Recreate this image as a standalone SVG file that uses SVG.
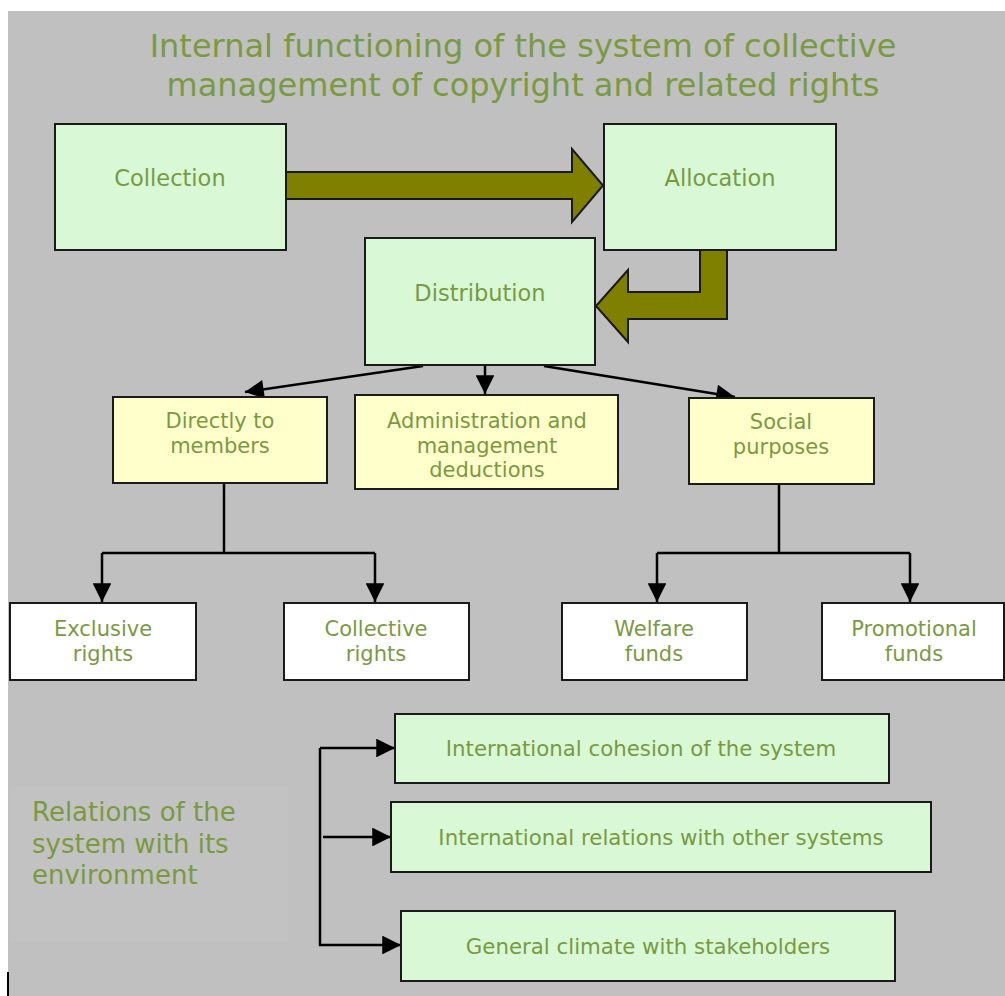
<svg xmlns="http://www.w3.org/2000/svg" width="1005" height="996" viewBox="0 0 1005 996">
<defs>
<style>
text{font-family:"DejaVu Sans","Verdana",sans-serif;fill:#7a9a42;text-anchor:middle}
.title{font-size:32px}
.big{font-size:22.5px}
.mid{font-size:21px}
.sm{font-size:21px}
.bot{font-size:21.3px}
.rel{font-size:26px;text-anchor:start}
.g{fill:#d8f8d6;stroke:#1a1a1a;stroke-width:2}
.y{fill:#ffffcc;stroke:#1a1a1a;stroke-width:2}
.w{fill:#ffffff;stroke:#1a1a1a;stroke-width:2}
.ln{fill:none;stroke:#000;stroke-width:2.5}
.thick{fill:#808000;stroke:#1a1a1a;stroke-width:2;stroke-linejoin:miter}
</style>
<marker id="ah" viewBox="0 0 10 10" refX="10" refY="5" markerWidth="8" markerHeight="7.5" markerUnits="strokeWidth" orient="auto">
<path d="M0,0 L10,5 L0,10 z" fill="#000"/>
</marker>
</defs>
<rect x="0" y="0" width="1005" height="996" fill="#ffffff"/>
<rect x="8" y="11" width="997" height="985" fill="#c0c0c0"/>
<rect x="10" y="785" width="278" height="157" fill="#c2c2c2"/>
<line x1="8" y1="972" x2="8" y2="996" stroke="#000" stroke-width="2"/>
<g id="title">
<text class="title" x="523" y="57">Internal functioning of the system of collective</text>
<text class="title" x="523" y="96">management of copyright and related rights</text>
</g>
<g id="connectors">
<path class="thick" d="M286,172 H572 V149 L603,185.5 L572,222 V199 H286 Z"/>
<path class="thick" d="M700,250 H727 V319 H628 V342 L596,306 L628,270 V292 H700 Z"/>
<line class="ln" x1="423" y1="366" x2="245" y2="392" marker-end="url(#ah)"/>
<line class="ln" x1="485" y1="366" x2="485" y2="394" marker-end="url(#ah)"/>
<line class="ln" x1="544" y1="366" x2="735" y2="397" marker-end="url(#ah)"/>
<path class="ln" d="M224,483 V553"/>
<path class="ln" d="M102,553 H375"/>
<line class="ln" x1="102" y1="553" x2="102" y2="602" marker-end="url(#ah)"/>
<line class="ln" x1="375" y1="553" x2="375" y2="602" marker-end="url(#ah)"/>
<path class="ln" d="M779,484 V553"/>
<path class="ln" d="M657,553 H910"/>
<line class="ln" x1="657" y1="553" x2="657" y2="602" marker-end="url(#ah)"/>
<line class="ln" x1="910" y1="553" x2="910" y2="602" marker-end="url(#ah)"/>
<path class="ln" d="M320,748 V945 H401" marker-end="url(#ah)"/>
<line class="ln" x1="320" y1="748" x2="395" y2="748" marker-end="url(#ah)"/>
<line class="ln" x1="323" y1="837" x2="391" y2="837" marker-end="url(#ah)"/>
</g>
<g id="collection"><rect class="g" x="55" y="124" width="231" height="126"/><text class="big" x="170" y="186">Collection</text></g>
<g id="allocation"><rect class="g" x="604" y="124" width="232" height="126"/><text class="big" x="720" y="186">Allocation</text></g>
<g id="distribution"><rect class="g" x="365" y="238" width="230" height="127"/><text class="big" x="480" y="301">Distribution</text></g>
<g id="directly"><rect class="y" x="113" y="397" width="214" height="86"/><text class="mid" x="220" y="428">Directly to</text><text class="mid" x="220" y="453">members</text></g>
<g id="admin"><rect class="y" x="355" y="395" width="263" height="94"/><text class="mid" x="487" y="428">Administration and</text><text class="mid" x="487" y="453">management</text><text class="mid" x="487" y="477">deductions</text></g>
<g id="social"><rect class="y" x="689" y="398" width="185" height="86"/><text class="mid" x="781" y="429">Social</text><text class="mid" x="781" y="454">purposes</text></g>
<g id="exclusive"><rect class="w" x="10" y="603" width="186" height="77"/><text class="sm" x="103" y="636">Exclusive</text><text class="sm" x="103" y="661">rights</text></g>
<g id="collective"><rect class="w" x="284" y="603" width="185" height="77"/><text class="sm" x="376" y="636">Collective</text><text class="sm" x="376" y="661">rights</text></g>
<g id="welfare"><rect class="w" x="562" y="603" width="185" height="77"/><text class="sm" x="654" y="636">Welfare</text><text class="sm" x="654" y="661">funds</text></g>
<g id="promotional"><rect class="w" x="822" y="603" width="182" height="77"/><text class="sm" x="914" y="636">Promotional</text><text class="sm" x="914" y="661">funds</text></g>
<g id="cohesion"><rect class="g" x="395" y="714" width="494" height="69"/><text class="bot" x="641" y="756">International cohesion of the system</text></g>
<g id="relations"><rect class="g" x="391" y="802" width="540" height="70"/><text class="bot" x="661" y="845">International relations with other systems</text></g>
<g id="climate"><rect class="g" x="401" y="911" width="494" height="70"/><text class="bot" x="648" y="954">General climate with stakeholders</text></g>
<g id="env">
<text class="rel" x="32" y="821">Relations of the</text>
<text class="rel" x="32" y="853">system with its</text>
<text class="rel" x="32" y="884">environment</text>
</g>
</svg>
